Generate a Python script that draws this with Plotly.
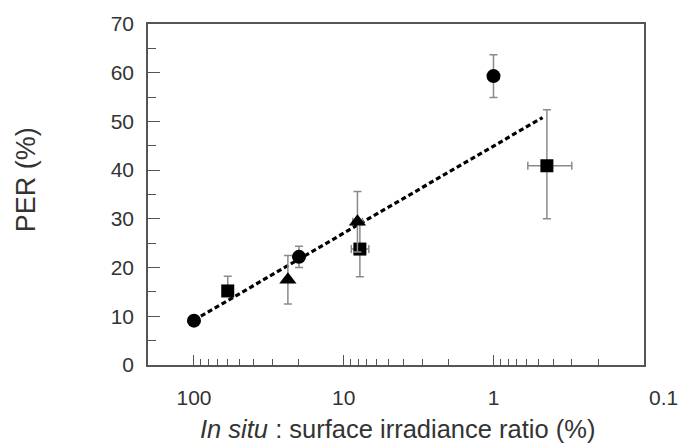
import plotly.graph_objects as go

# Circles
circ_x = [100, 19.9, 1.0]
circ_y = [9.1, 22.2, 59.3]
circ_err = [0, 2.2, 4.4]

# Squares
sq_x = [59.5, 7.8, 0.44]
sq_y = [15.2, 23.8, 40.9]
sq_err_plus = [3.0, 5.7, 11.5]
sq_err_minus = [1.0, 5.7, 10.9]
sq_xerr_plus = [0, 1.1, 0.15]
sq_xerr_minus = [0, 1.0, 0.14]

# Triangles
tri_x = [23.6, 8.1]
tri_y = [17.5, 29.4]
tri_err = [5.0, 6.2]
tri_xerr = [0, 0.6]

# Regression line endpoints
line_x = [100, 0.47]
line_y = [9.2, 50.8]

# Axis ticks
x_tickvals = [100, 10, 1, 0.1]
x_ticktext = ["100", "10", "1", "\u00a0\u00a0\u00a0\u00a0\u00a0\u00a0\u00a00.1"]

ecol = "#8a8a8a"
fig = go.Figure()

fig.add_trace(go.Scatter(
    x=line_x, y=line_y, mode="lines",
    line=dict(color="black", width=3.2, dash="5px,3px"), showlegend=False))

fig.add_trace(go.Scatter(
    x=circ_x, y=circ_y, mode="markers",
    marker=dict(symbol="circle", size=14, color="black"),
    error_y=dict(type="data", array=circ_err, color=ecol, thickness=1.5, width=4),
    showlegend=False))

fig.add_trace(go.Scatter(
    x=sq_x, y=sq_y, mode="markers",
    marker=dict(symbol="square", size=13, color="black"),
    error_y=dict(type="data", array=sq_err_plus, arrayminus=sq_err_minus, color=ecol, thickness=1.5, width=4),
    error_x=dict(type="data", array=sq_xerr_plus, arrayminus=sq_xerr_minus, color=ecol, thickness=1.5, width=4),
    showlegend=False))

fig.add_trace(go.Scatter(
    x=tri_x, y=tri_y, mode="markers",
    marker=dict(symbol="triangle-up", size=15, color="black"),
    error_y=dict(type="data", array=tri_err, color=ecol, thickness=1.5, width=4),
    error_x=dict(type="data", array=tri_xerr, color=ecol, thickness=1.5, width=4),
    showlegend=False))

font_color = "#333333"
fig.update_layout(
    width=690, height=443,
    margin=dict(l=148, r=41, t=24, b=78),
    paper_bgcolor="white", plot_bgcolor="white",
    font=dict(family="Liberation Sans, Arial, sans-serif", size=21, color=font_color),
    xaxis=dict(
        type="log", range=[2.307, -1.005], tickmode="array",
        tickvals=x_tickvals, ticktext=x_ticktext,
        ticks="inside", ticklen=10, tickcolor="#555", tickwidth=1.3,
        minor=dict(ticks="inside", ticklen=6, dtick="D1", tickcolor="#555", tickwidth=1.2),
        showgrid=False, zeroline=False,
        showline=True, linecolor="#555", linewidth=1.5, mirror=True,
        ticklabelstandoff=13,
        tickfont=dict(size=21),
    ),
    yaxis=dict(
        range=[0, 70], tickmode="linear", tick0=0, dtick=10,
        ticks="inside", ticklen=12, tickcolor="#555", tickwidth=1.3,
        minor=dict(ticks="inside", ticklen=8, dtick=5, tickcolor="#555", tickwidth=1.2),
        showgrid=False, zeroline=False,
        showline=True, linecolor="#555", linewidth=1.5, mirror=True,
        ticklabelstandoff=8,
        tickfont=dict(size=21),
    ),
    annotations=[
        dict(text="<i>In situ</i> : surface irradiance ratio (%)", xref="paper", yref="paper",
             x=0.503, y=-0.187, xanchor="center", yanchor="middle", showarrow=False,
             font=dict(size=25.5)),
        dict(text="PER (%)", xref="paper", yref="paper", textangle=-90,
             x=-0.2455, y=0.5425, xanchor="center", yanchor="middle", showarrow=False,
             font=dict(size=27)),
    ],
)

fig.write_html("out.html")
